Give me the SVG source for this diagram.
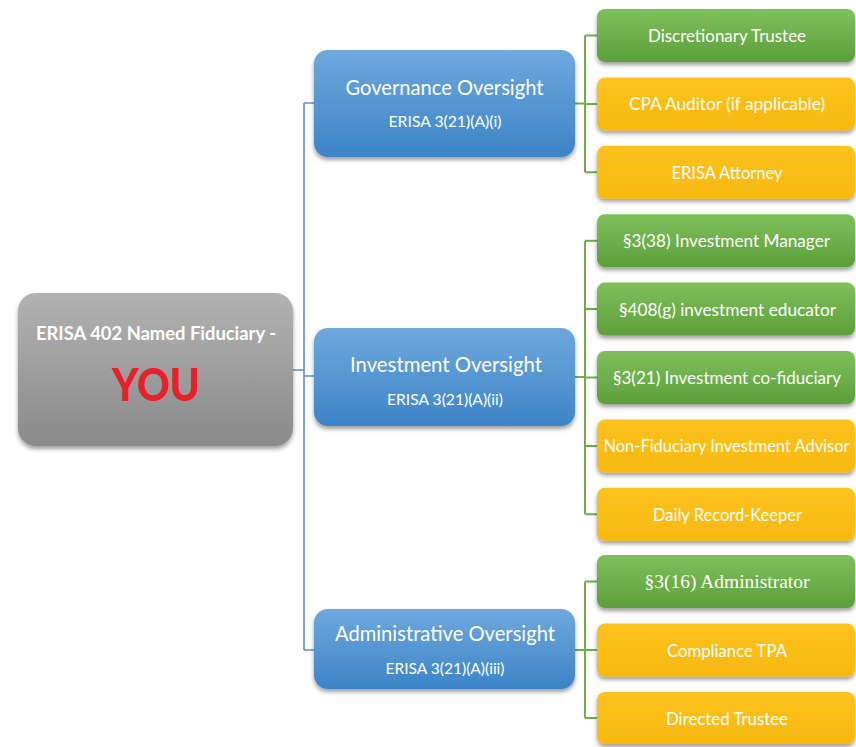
<svg xmlns="http://www.w3.org/2000/svg" width="856" height="747" viewBox="0 0 856 747">
<defs>
<linearGradient id="gGray" x1="0" y1="0" x2="0" y2="1"><stop offset="0" stop-color="#b2b2b2"/><stop offset="1" stop-color="#8a8a8a"/></linearGradient>
<linearGradient id="gBlue" x1="0" y1="0" x2="0" y2="1"><stop offset="0" stop-color="#70a8dd"/><stop offset="1" stop-color="#3c84c7"/></linearGradient>
<linearGradient id="gGreen" x1="0" y1="0" x2="0" y2="1"><stop offset="0" stop-color="#7fc05c"/><stop offset="1" stop-color="#5c9f3a"/></linearGradient>
<linearGradient id="gYellow" x1="0" y1="0" x2="0" y2="1"><stop offset="0" stop-color="#fdc21e"/><stop offset="1" stop-color="#f7b90f"/></linearGradient>
<filter id="sh" x="-10%" y="-20%" width="120%" height="150%"><feDropShadow dx="0" dy="3" stdDeviation="2.2" flood-color="#000" flood-opacity="0.38"/></filter>
</defs>
<style>
text{font-family:Lato,"Open Sans","Liberation Sans",sans-serif;fill:#fff;text-anchor:middle}
.child{font-size:18px}
.title{font-size:21px}
.sub{font-size:15px}
.green{fill:url(#gGreen);filter:url(#sh)}
.yellow{fill:url(#gYellow);filter:url(#sh)}
.blue{fill:url(#gBlue);filter:url(#sh)}
.bl{stroke:#5b8fd0;stroke-width:1.6;fill:none}
.gl{stroke:#70ad47;stroke-width:2;fill:none}
</style>
<rect width="856" height="747" fill="#fff"/>
<g id="connectors">
<path class="bl" d="M293 370H304M304 103V650M304 103H314M304 376H314M304 650H314"/>
<path class="gl" d="M575 103.5H585M585 35.5V172.3M585 35.5H597M585 104H597M585 172.3H597"/>
<path class="gl" d="M575 377H585M585 240.7V514.3M585 240.7H597M585 309H597M585 377.5H597M585 446H597M585 514.3H597"/>
<path class="gl" d="M575 650H585M585 581.5V718M585 581.5H597M585 650H597M585 718H597"/>
</g>
<g id="root">
<rect x="18" y="293" width="275" height="153" rx="18" fill="url(#gGray)" filter="url(#sh)"/>
<text x="156" y="340" style="font-size:19px;font-weight:bold" textLength="240" lengthAdjust="spacingAndGlyphs">ERISA 402 Named Fiduciary -</text>
<text x="156" y="401" style="font-size:46px;font-weight:900;fill:#e8202a" textLength="88" lengthAdjust="spacingAndGlyphs">YOU</text>
</g>
<g id="governance">
<rect class="blue" x="314" y="50" width="261" height="107" rx="14"/>
<text class="title" x="444.5" y="95" textLength="198" lengthAdjust="spacingAndGlyphs">Governance Oversight</text>
<text class="sub" x="445" y="127" textLength="113" lengthAdjust="spacingAndGlyphs">ERISA 3(21)(A)(i)</text>
</g>
<g id="investment">
<rect class="blue" x="314" y="328" width="261" height="98" rx="14"/>
<text class="title" x="446" y="372" textLength="192" lengthAdjust="spacingAndGlyphs">Investment Oversight</text>
<text class="sub" x="445" y="405" textLength="116" lengthAdjust="spacingAndGlyphs">ERISA 3(21)(A)(ii)</text>
</g>
<g id="administrative">
<rect class="blue" x="314" y="609" width="261" height="80" rx="14"/>
<text class="title" x="445" y="641" textLength="220" lengthAdjust="spacingAndGlyphs">Administrative Oversight</text>
<text class="sub" x="445" y="674" textLength="119" lengthAdjust="spacingAndGlyphs">ERISA 3(21)(A)(iii)</text>
</g>
<g id="discretionary-trustee">
<rect class="green" x="597" y="9" width="258" height="53" rx="8"/>
<text class="child" x="727" y="42" textLength="158" lengthAdjust="spacingAndGlyphs">Discretionary Trustee</text>
</g>
<g id="cpa-auditor">
<rect class="yellow" x="597" y="77.4" width="258" height="53" rx="8"/>
<text class="child" x="727" y="110.4" textLength="196" lengthAdjust="spacingAndGlyphs">CPA Auditor (if applicable)</text>
</g>
<g id="erisa-attorney">
<rect class="yellow" x="597" y="145.8" width="258" height="53" rx="8"/>
<text class="child" x="727" y="178.8" textLength="111" lengthAdjust="spacingAndGlyphs">ERISA Attorney</text>
</g>
<g id="investment-manager">
<rect class="green" x="597" y="214.2" width="258" height="53" rx="8"/>
<text class="child" x="726.5" y="247.2" textLength="207" lengthAdjust="spacingAndGlyphs">§3(38) Investment Manager</text>
</g>
<g id="investment-educator">
<rect class="green" x="597" y="282.6" width="258" height="53" rx="8"/>
<text class="child" x="727.5" y="315.6" textLength="217" lengthAdjust="spacingAndGlyphs">§408(g) investment educator</text>
</g>
<g id="investment-co-fiduciary">
<rect class="green" x="597" y="351" width="258" height="53" rx="8"/>
<text class="child" x="727" y="384" textLength="228" lengthAdjust="spacingAndGlyphs">§3(21) Investment co-fiduciary</text>
</g>
<g id="non-fiduciary-advisor">
<rect class="yellow" x="597" y="419.4" width="258" height="53" rx="8"/>
<text class="child" x="726.5" y="452.4" style="font-size:16.5px" textLength="246" lengthAdjust="spacingAndGlyphs">Non-Fiduciary Investment Advisor</text>
</g>
<g id="record-keeper">
<rect class="yellow" x="597" y="487.8" width="258" height="53" rx="8"/>
<text class="child" x="727.5" y="520.8" textLength="149" lengthAdjust="spacingAndGlyphs">Daily Record-Keeper</text>
</g>
<g id="administrator">
<rect class="green" x="597" y="555" width="258" height="53" rx="8"/>
<text class="child" x="727" y="587.5" style="font-family:'Liberation Serif','DejaVu Serif',serif" textLength="165" lengthAdjust="spacingAndGlyphs">§3(16) Administrator</text>
</g>
<g id="compliance-tpa">
<rect class="yellow" x="597" y="623.5" width="258" height="53" rx="8"/>
<text class="child" x="727" y="656.5" textLength="120" lengthAdjust="spacingAndGlyphs">Compliance TPA</text>
</g>
<g id="directed-trustee">
<rect class="yellow" x="597" y="692" width="258" height="52" rx="8"/>
<text class="child" x="727" y="725" textLength="122" lengthAdjust="spacingAndGlyphs">Directed Trustee</text>
</g>
</svg>
